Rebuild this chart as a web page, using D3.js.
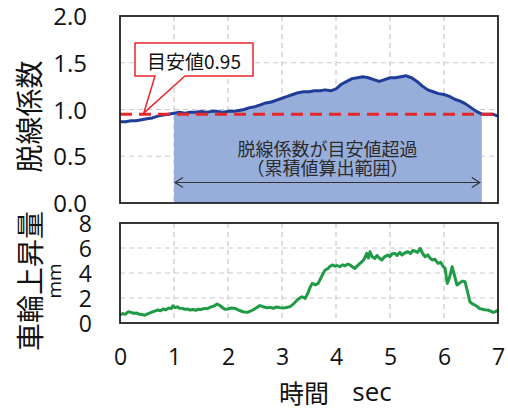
<!DOCTYPE html>
<html>
<head>
<meta charset="utf-8">
<script src="https://cdn.jsdelivr.net/npm/d3@7"></script>
<style>
  html, body { margin: 0; padding: 0; background: #fff; }
  svg { display: block; }
  .num { font-family: "Open Sans", "Noto Sans", sans-serif; fill: #111; }
  .jp { font-family: "Noto Sans CJK JP", sans-serif; fill: #111; }
</style>
</head>
<body>
<svg id="chart" width="508" height="409"></svg>
<script>
// Time axis ticks (sec)
const timeTicks = [0, 1, 2, 3, 4, 5, 6, 7];
// Derailment coefficient ticks
const coefTicks = [0.0, 0.5, 1.0, 1.5, 2.0];
// Wheel lift ticks (mm)
const liftTicks = [0, 2, 4, 6, 8];

// Derailment coefficient, sampled every 0.1 s
const coefTime = [
  0.0, 0.1, 0.2, 0.3, 0.4, 0.5, 0.6, 0.7, 0.8, 0.9,
  1.0, 1.1, 1.2, 1.3, 1.4, 1.5, 1.6, 1.7, 1.8, 1.9,
  2.0, 2.1, 2.2, 2.3, 2.4, 2.5, 2.6, 2.7, 2.8, 2.9,
  3.0, 3.1, 3.2, 3.3, 3.4, 3.5, 3.6, 3.7, 3.8, 3.9,
  4.0, 4.1, 4.2, 4.3, 4.4, 4.5, 4.6, 4.7, 4.8, 4.9,
  5.0, 5.1, 5.2, 5.3, 5.4, 5.5, 5.6, 5.7, 5.8, 5.9,
  6.0, 6.1, 6.2, 6.3, 6.4, 6.5, 6.6, 6.7, 6.8, 6.9, 7.0
];
const coefValue = [
  0.87, 0.87, 0.88, 0.88, 0.89, 0.90, 0.91, 0.93, 0.94, 0.95,
  0.96, 0.97, 0.96, 0.97, 0.97, 0.98, 0.97, 0.98, 0.98, 0.97,
  0.98, 0.98, 0.99, 1.00, 1.02, 1.03, 1.05, 1.07, 1.08, 1.10,
  1.12, 1.14, 1.16, 1.18, 1.19, 1.19, 1.20, 1.20, 1.21, 1.20,
  1.22, 1.27, 1.30, 1.33, 1.34, 1.35, 1.34, 1.32, 1.30, 1.32,
  1.34, 1.34, 1.35, 1.36, 1.34, 1.30, 1.25, 1.21, 1.19, 1.17,
  1.16, 1.14, 1.11, 1.09, 1.06, 1.02, 0.98, 0.95, 0.95, 0.95, 0.93
];

// Guide value and the span where the coefficient exceeds it
const guideValue = 0.95;
const exceedStart = 1.0;
const exceedEnd = 6.7;

// Wheel lift (mm)
const liftTime = [
  0.00, 0.05, 0.10, 0.15, 0.20, 0.25, 0.30, 0.35, 0.40, 0.46,
  0.52, 0.58, 0.64, 0.70, 0.75, 0.80, 0.85, 0.90, 0.95, 0.98,
  1.02, 1.06, 1.10, 1.15, 1.20, 1.25, 1.30, 1.35, 1.40, 1.45,
  1.50, 1.57, 1.62, 1.68, 1.74, 1.80, 1.85, 1.90, 1.94, 2.00,
  2.06, 2.13, 2.20, 2.28, 2.35, 2.40, 2.46, 2.52, 2.59, 2.65,
  2.72, 2.78, 2.84, 2.90, 2.96, 3.02, 3.08, 3.15, 3.22, 3.28,
  3.33, 3.37, 3.43, 3.48, 3.52, 3.56, 3.62, 3.67, 3.72, 3.76,
  3.80, 3.85, 3.88, 3.93, 3.98, 4.02, 4.07, 4.12, 4.17, 4.22,
  4.26, 4.31, 4.35, 4.40, 4.44, 4.48, 4.52, 4.57, 4.60, 4.63,
  4.67, 4.72, 4.76, 4.80, 4.85, 4.90, 4.96, 5.00, 5.04, 5.09,
  5.13, 5.18, 5.22, 5.27, 5.33, 5.38, 5.42, 5.46, 5.51, 5.56,
  5.60, 5.65, 5.70, 5.74, 5.78, 5.83, 5.89, 5.94, 5.98, 6.02,
  6.06, 6.10, 6.15, 6.20, 6.24, 6.29, 6.34, 6.39, 6.43, 6.48,
  6.52, 6.57, 6.62, 6.66, 6.70, 6.75, 6.81, 6.86, 6.91, 6.95, 7.00
];
const liftValue = [
  0.64, 0.75, 0.70, 0.90, 0.85, 0.78, 0.80, 0.72, 0.68, 0.62,
  0.75, 0.85, 0.95, 1.04, 0.98, 1.12, 1.05, 1.20, 1.15, 1.38,
  1.22, 1.30, 1.18, 1.17, 1.10, 1.12, 1.04, 1.08, 1.02, 1.10,
  1.08, 1.17, 1.15, 1.28, 1.35, 1.52, 1.40, 1.22, 1.10, 1.12,
  1.20, 1.17, 1.02, 0.90, 0.85, 0.92, 1.04, 1.20, 1.39, 1.30,
  1.22, 1.25, 1.18, 1.28, 1.23, 1.20, 1.24, 1.31, 1.55, 1.84,
  2.00, 2.10, 1.97, 2.40, 2.85, 3.17, 3.05, 3.17, 3.60, 3.95,
  4.24, 4.35, 4.50, 4.64, 4.55, 4.60, 4.50, 4.65, 4.58, 4.72,
  4.64, 4.48, 4.37, 4.60, 4.75, 4.90, 5.10, 5.57, 5.20, 5.70,
  5.30, 5.17, 5.40, 5.20, 5.04, 5.30, 5.44, 5.30, 5.55, 5.57,
  5.40, 5.65, 5.44, 5.60, 5.70, 5.55, 5.80, 5.76, 5.65, 5.97,
  5.60, 5.30, 5.45, 5.20, 5.04, 5.10, 4.77, 4.85, 4.55, 4.37,
  3.17, 3.60, 4.50, 3.70, 3.04, 3.20, 3.35, 3.30, 2.60, 1.70,
  1.55, 1.44, 1.30, 1.15, 1.12, 1.05, 1.04, 0.95, 0.85, 0.90, 1.04
];

const svg = d3.select("#chart");

const plotLeft = 120, plotRight = 498;
const top1 = 16, bottom1 = 203;
const top2 = 223, bottom2 = 323;

const x = d3.scaleLinear().domain([0, 7]).range([plotLeft, plotRight]);
const yCoef = d3.scaleLinear().domain([0, 2]).range([bottom1, top1]);
const yLift = d3.scaleLinear().domain([0, 8]).range([bottom2, top2]);

const gridColor = "#c9c9c9";

function drawGrid(yScale, yGrid, yTop, yBottom) {
  const g = svg.append("g");
  g.selectAll("line.v").data(timeTicks.slice(1, -1)).join("line")
    .attr("x1", d => x(d)).attr("x2", d => x(d))
    .attr("y1", yTop).attr("y2", yBottom)
    .attr("stroke", gridColor).attr("stroke-width", 1.2)
    .attr("stroke-dasharray", "5,4");
  g.selectAll("line.h").data(yGrid).join("line")
    .attr("x1", plotLeft).attr("x2", plotRight)
    .attr("y1", d => yScale(d)).attr("y2", d => yScale(d))
    .attr("stroke", gridColor).attr("stroke-width", 1.2)
    .attr("stroke-dasharray", "5,4");
}

// ---- Upper panel: derailment coefficient ----
const coefData = coefTime.map((t, i) => ({ t, v: coefValue[i] }));

drawGrid(yCoef, coefTicks.slice(1, -1), top1, bottom1);

// Shaded span where the coefficient is above the guide value
const exceedData = coefData.filter(d => d.t >= exceedStart && d.t <= exceedEnd);
svg.append("path")
  .datum(exceedData)
  .attr("fill", "#97aedb")
  .attr("d", d3.area().x(d => x(d.t)).y0(yCoef(0)).y1(d => yCoef(d.v)));

// Double-headed arrow spanning the shaded range
const arrowY = 182.5;
const ax1 = x(exceedStart), ax2 = x(exceedEnd) - 1;
svg.append("line")
  .attr("x1", ax1 + 1).attr("x2", ax2 - 1)
  .attr("y1", arrowY).attr("y2", arrowY)
  .attr("stroke", "#333").attr("stroke-width", 1.2);
svg.append("path")
  .attr("d", `M${ax1 + 9},${arrowY - 5} L${ax1 + 1},${arrowY} L${ax1 + 9},${arrowY + 5}` +
             `M${ax2 - 9},${arrowY - 5} L${ax2 - 1},${arrowY} L${ax2 - 9},${arrowY + 5}`)
  .attr("fill", "none").attr("stroke", "#333").attr("stroke-width", 1.2);

// Labels inside the shaded span
const midX = (ax1 + ax2) / 2;
svg.append("text").attr("class", "jp")
  .attr("x", midX).attr("y", 148)
  .attr("text-anchor", "middle").attr("dominant-baseline", "central")
  .attr("font-size", 18).style("fill", "#2b2b2b")
  .text("脱線係数が目安値超過");
svg.append("text").attr("class", "jp")
  .attr("x", midX).attr("y", 167)
  .attr("text-anchor", "middle").attr("dominant-baseline", "central")
  .attr("font-size", 18).style("fill", "#2b2b2b")
  .text("（累積値算出範囲）");

// Coefficient line
svg.append("path")
  .datum(coefData)
  .attr("fill", "none")
  .attr("stroke", "#1f3c98")
  .attr("stroke-width", 3)
  .attr("stroke-linejoin", "round")
  .attr("d", d3.line().x(d => x(d.t)).y(d => yCoef(d.v)));

// Guide value line
svg.append("line")
  .attr("x1", plotLeft).attr("x2", plotRight)
  .attr("y1", yCoef(guideValue)).attr("y2", yCoef(guideValue))
  .attr("stroke", "#e8262b").attr("stroke-width", 3)
  .attr("stroke-dasharray", "12,7");

// Frame
svg.append("rect")
  .attr("x", plotLeft).attr("y", top1)
  .attr("width", plotRight - plotLeft).attr("height", bottom1 - top1)
  .attr("fill", "none").attr("stroke", "#222").attr("stroke-width", 1.8);

// Callout for the guide value
const tipX = x(0.44), tipY = yCoef(guideValue) - 1;
const bx0 = 135, bx1 = 253, by0 = 43, by1 = 76;
svg.append("path")
  .attr("d", `M${bx0},${by0} H${bx1} V${by1} H185 L${tipX},${tipY} L155,${by1} H${bx0} Z`)
  .attr("fill", "#fff").attr("stroke", "#e8262b").attr("stroke-width", 1.5);
svg.append("text").attr("class", "jp")
  .attr("x", (bx0 + bx1) / 2).attr("y", (by0 + by1) / 2 + 1)
  .attr("text-anchor", "middle").attr("dominant-baseline", "central")
  .attr("font-size", 19)
  .text("目安値0.95");

// Upper y axis
const axisCoef = svg.append("g")
  .attr("transform", `translate(${plotLeft},0)`)
  .call(d3.axisLeft(yCoef).tickValues(coefTicks).tickFormat(d3.format(".1f")).tickSize(0).tickPadding(33));
axisCoef.select(".domain").remove();
axisCoef.selectAll("text").attr("class", "num").attr("font-size", 24).attr("dy", "0.36em");

svg.append("text").attr("class", "jp")
  .attr("transform", `translate(28,${(top1 + bottom1) / 2 + 7}) rotate(-90)`)
  .attr("text-anchor", "middle").attr("dominant-baseline", "central")
  .attr("font-size", 28)
  .text("脱線係数");

// ---- Lower panel: wheel lift ----
const liftData = liftTime.map((t, i) => ({ t, v: liftValue[i] }));

drawGrid(yLift, liftTicks.slice(1, -1), top2, bottom2);

svg.append("path")
  .datum(liftData)
  .attr("fill", "none")
  .attr("stroke", "#1f9a45")
  .attr("stroke-width", 3)
  .attr("stroke-linejoin", "round")
  .attr("d", d3.line().x(d => x(d.t)).y(d => yLift(d.v)));

svg.append("rect")
  .attr("x", plotLeft).attr("y", top2)
  .attr("width", plotRight - plotLeft).attr("height", bottom2 - top2)
  .attr("fill", "none").attr("stroke", "#222").attr("stroke-width", 1.8);

const axisLift = svg.append("g")
  .attr("transform", `translate(${plotLeft},0)`)
  .call(d3.axisLeft(yLift).tickValues(liftTicks).tickFormat(d3.format("d")).tickSize(0).tickPadding(28));
axisLift.select(".domain").remove();
axisLift.selectAll("text").attr("class", "num").attr("font-size", 23).attr("dy", "0.36em");

svg.append("text").attr("class", "jp")
  .attr("transform", `translate(29,281) rotate(-90)`)
  .attr("text-anchor", "middle").attr("dominant-baseline", "central")
  .attr("font-size", 28)
  .text("車輪上昇量");
svg.append("text").attr("class", "num")
  .attr("transform", `translate(54,281) rotate(-90)`)
  .attr("text-anchor", "middle").attr("dominant-baseline", "central")
  .attr("font-size", 19)
  .text("mm");

// Shared time axis
const axisTime = svg.append("g")
  .attr("transform", `translate(0,${bottom2})`)
  .call(d3.axisBottom(x).tickValues(timeTicks).tickFormat(d3.format("d")).tickSize(0).tickPadding(26));
axisTime.select(".domain").remove();
axisTime.selectAll("text").attr("class", "num").attr("font-size", 23);

// Time axis title: Japanese word followed by the unit
svg.append("text").attr("class", "jp")
  .attr("x", 304).attr("y", 392)
  .attr("text-anchor", "middle").attr("dominant-baseline", "central")
  .attr("font-size", 25)
  .text("時間");
svg.append("text").attr("class", "num")
  .attr("x", 372).attr("y", 391)
  .attr("text-anchor", "middle").attr("dominant-baseline", "central")
  .attr("font-size", 26)
  .text("sec");
</script>
</body>
</html>
